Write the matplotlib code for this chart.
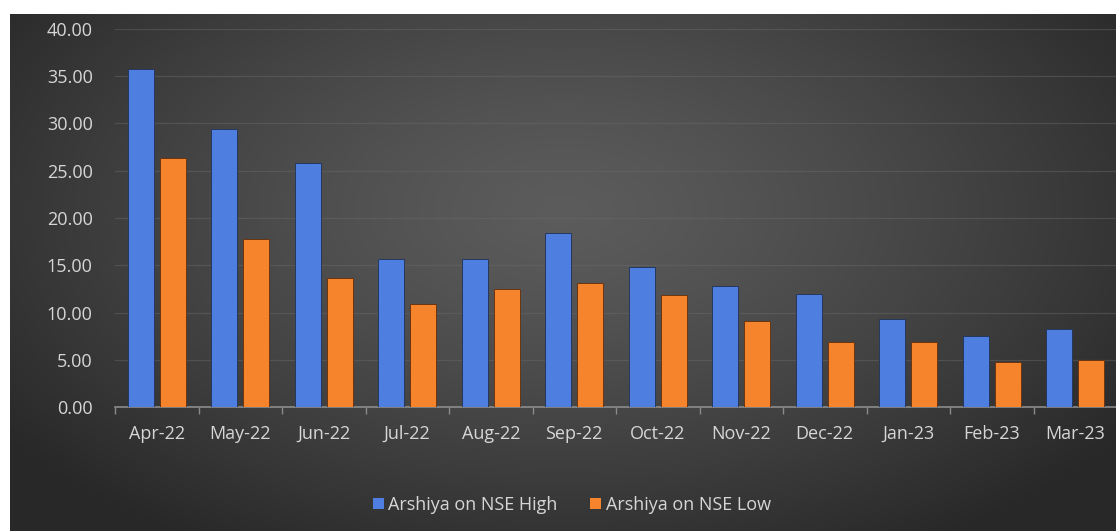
import matplotlib.pyplot as plt
import numpy as np
from matplotlib.patches import Patch

months = ['Apr-22', 'May-22', 'Jun-22', 'Jul-22', 'Aug-22', 'Sep-22',
          'Oct-22', 'Nov-22', 'Dec-22', 'Jan-23', 'Feb-23', 'Mar-23']
nse_high = [35.8, 29.4, 25.8, 15.7, 15.7, 18.4, 14.8, 12.8, 12.0, 9.3, 7.5, 8.3]
nse_low = [26.4, 17.8, 13.7, 10.9, 12.5, 13.1, 11.9, 9.1, 6.9, 6.9, 4.8, 5.0]
yticks = [0, 5, 10, 15, 20, 25, 30, 35, 40]

BLUE = '#4d7ee0'
ORANGE = '#f5842c'
TEXT = '#d6d6d6'
FONT = 'Open Sans'
FS = 13

W, H = 1116, 531
fig = plt.figure(figsize=(W / 100, H / 100), dpi=100)
fig.patch.set_facecolor('white')

# dark radial-gradient chart area
bg = fig.add_axes([10 / W, 0, 1 - 10 / W, (H - 14) / H])
bg.set_axis_off()
gx, gy = np.meshgrid(np.linspace(0, 1, 400), np.linspace(0, 1, 200))
r = np.sqrt(((gx - 0.5) / 0.62) ** 2 + ((gy - 0.38) / 0.75) ** 2)
r = np.clip(r, 0, 1)
shade = 0.36 - 0.20 * r ** 1.3
img = np.dstack([shade, shade, shade])
bg.imshow(img, aspect='auto', extent=[0, 1, 0, 1], origin='upper')
bg.set_xlim(0, 1)
bg.set_ylim(0, 1)

left, right, top, bottom = 115, 1117, 29, 407
ax = fig.add_axes([left / W, (H - bottom) / H, (right - left) / W, (bottom - top) / H])
ax.patch.set_alpha(0)

x = np.arange(len(months))
bw = 0.31
ax.bar(x - 0.19, nse_high, bw, color=BLUE, edgecolor='#26375e', linewidth=0.7, zorder=3)
ax.bar(x + 0.19, nse_low, bw, color=ORANGE, edgecolor='#6a3510', linewidth=0.7, zorder=3)

ax.set_xlim(-0.5, len(months) - 0.5)
ax.set_ylim(0, 40)
ax.set_yticks(yticks)
ax.set_yticklabels([f'{v:.2f}' for v in yticks], color=TEXT, fontsize=FS, family=FONT)
ax.set_xticks(x)
ax.set_xticklabels(months, color=TEXT, fontsize=FS, family=FONT)
ax.tick_params(axis='y', length=0, pad=16)
ax.tick_params(axis='x', length=0, pad=13)

# category separators on the baseline
ax.set_xticks(np.arange(len(months) + 1) - 0.5, minor=True)
ax.tick_params(axis='x', which='minor', length=5, color='#8a8a8a', width=1)

ax.grid(axis='y', color='#6a6a6a', linewidth=0.9, alpha=0.45, zorder=0)
for s in ['top', 'right', 'left']:
    ax.spines[s].set_visible(False)
ax.spines['bottom'].set_color('#8c8c8c')
ax.spines['bottom'].set_linewidth(1.2)

handles = [Patch(facecolor=BLUE, label='Arshiya on NSE High'),
           Patch(facecolor=ORANGE, label='Arshiya on NSE Low')]
leg = fig.legend(handles=handles, loc='center', bbox_to_anchor=(572 / W, (H - 505) / H),
                 ncol=2, frameon=False, handlelength=0.6, handleheight=0.6,
                 handletextpad=0.25, columnspacing=1.8,
                 prop={'family': FONT, 'size': FS})
for t in leg.get_texts():
    t.set_color(TEXT)

fig.savefig('out.png', dpi=100, facecolor=fig.get_facecolor())
